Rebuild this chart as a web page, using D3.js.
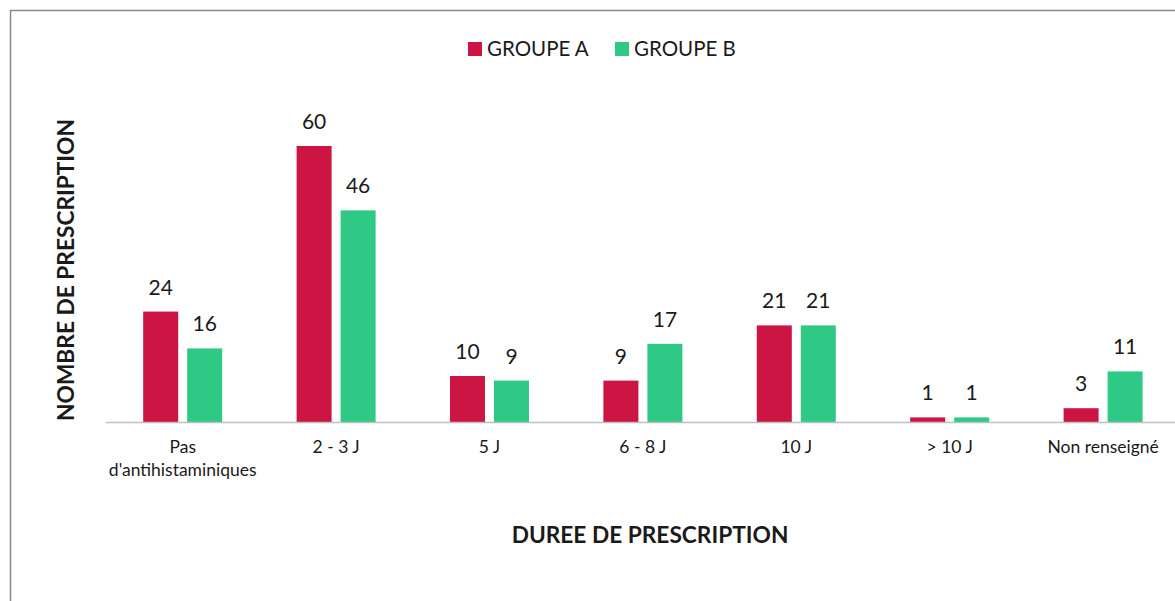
<!DOCTYPE html>
<html>
<head>
<meta charset="utf-8">
<script src="https://cdn.jsdelivr.net/npm/d3@7"></script>
<style>
  body{ margin:0; background:#fff; }
  text{ font-family:Lato,"Open Sans",sans-serif; fill:#1a1a1a; }
</style>
</head>
<body>
<svg id="chart" width="1175" height="601"></svg>
<script>
const categories = [["Pas","d'antihistaminiques"],["2 - 3 J"],["5 J"],["6 - 8 J"],["10 J"],["> 10 J"],["Non renseigné"]]
const groupA = [24, 60, 10, 9, 21, 1, 3]
const groupB = [16, 46, 9, 17, 21, 1, 11]
const seriesNames = ["GROUPE A", "GROUPE B"]
const colors = ["#cc1543", "#2ec985"]

const W = 1175, H = 601
const svg = d3.select('#chart')

// chart border (left/top only visible)
svg.append('rect').attr('x', 10.5).attr('y', 10.5).attr('width', W+10).attr('height', H+10)
  .attr('fill','none').attr('stroke','#8a8a8a').attr('stroke-width', 1.5)

const x0 = 106, x1 = 106 + 7*153.4, yBase = 422
const x = d3.scaleBand().domain(d3.range(categories.length)).range([x0, x1]).paddingInner(0).paddingOuter(0)
const y = d3.scaleLinear().domain([0, 60]).range([yBase, 146])
const sub = d3.scaleBand().domain([0,1]).range([-39.5, 39.5]).paddingInner(9/44)

const rows = categories.map((c,i) => ({ i, vals:[groupA[i], groupB[i]] }))
const g = svg.append('g')
const cat = g.selectAll('g.cat').data(rows).enter().append('g')
  .attr('transform', d => `translate(${x(d.i) + x.bandwidth()/2},0)`)

cat.selectAll('rect').data(d => d.vals).enter().append('rect')
  .attr('x', (v,j) => sub(j)).attr('width', sub.bandwidth())
  .attr('y', v => y(v)).attr('height', v => yBase - y(v))
  .attr('fill', (v,j) => colors[j])

cat.selectAll('text.val').data(d => d.vals).enter().append('text').attr('class','val')
  .attr('x', (v,j) => sub(j) + sub.bandwidth()/2).attr('y', v => y(v) - 17)
  .attr('text-anchor','middle').style('font-size','21px').text(v => v)

// baseline axis
svg.append('line').attr('x1', x0).attr('x2', W).attr('y1', yBase+0.5).attr('y2', yBase+0.5)
  .attr('stroke','#bfbfbf').attr('stroke-width', 1.5)

cat.append('text').attr('text-anchor','middle').style('font-size','17.5px')
  .attr('y', 453)
  .selectAll('tspan').data(d => categories[d.i]).enter().append('tspan')
  .attr('x', 0).attr('dy', (t,k) => k ? 23 : 0).text(t => t)

// legend
const legX = [468, 615]
seriesNames.forEach((name, j) => {
  svg.append('rect').attr('x', legX[j]).attr('y', 42).attr('width', 14).attr('height', 14).attr('fill', colors[j])
  svg.append('text').attr('x', legX[j] + 19).attr('y', 56).style('font-size','20.5px').text(name)
})

// axis titles
svg.append('text').attr('transform','translate(74,270) rotate(-90)').attr('text-anchor','middle')
  .style('font-size','22.7px').style('font-weight','bold').text('NOMBRE DE PRESCRIPTION')
svg.append('text').attr('x', 650).attr('y', 543).attr('text-anchor','middle')
  .style('font-size','22.7px').style('font-weight','bold').text('DUREE DE PRESCRIPTION')
</script>
</body>
</html>
